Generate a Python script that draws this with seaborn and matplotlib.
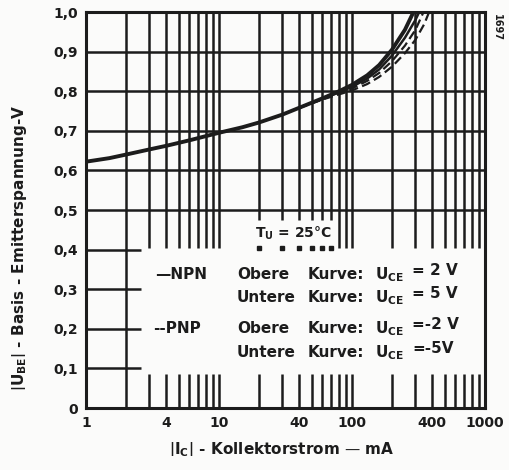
import numpy as np
import pandas as pd
import matplotlib
matplotlib.use("Agg")
import matplotlib.pyplot as plt
import seaborn as sns

# Curve data (I_C in mA, U_BE in V)
npn_2v_i = [1, 1.5, 2, 3, 4, 6, 10, 15, 20, 30, 40, 60, 80, 100, 130, 160, 200, 250, 290]
npn_2v_u = [0.622, 0.631, 0.640, 0.653, 0.662, 0.676, 0.695, 0.709, 0.721, 0.741, 0.758,
            0.782, 0.800, 0.816, 0.840, 0.866, 0.905, 0.955, 1.0]

npn_5v_i = [40, 60, 80, 100, 130, 160, 200, 250, 300, 320]
npn_5v_u = [0.758, 0.781, 0.797, 0.811, 0.832, 0.855, 0.890, 0.935, 0.980, 1.0]

pnp_2v_i = [40, 60, 80, 100, 130, 160, 200, 250, 300, 345]
pnp_2v_u = [0.758, 0.780, 0.795, 0.807, 0.826, 0.846, 0.876, 0.915, 0.955, 1.0]

pnp_5v_i = [40, 60, 80, 100, 130, 160, 200, 250, 300, 350, 380]
pnp_5v_u = [0.758, 0.779, 0.792, 0.802, 0.818, 0.836, 0.862, 0.896, 0.930, 0.970, 1.0]

x_ticks = [1, 4, 10, 40, 100, 400, 1000]
x_tick_labels = ["1", "4", "10", "40", "100", "400", "1000"]
y_ticks = [0, 0.1, 0.2, 0.3, 0.4, 0.5, 0.6, 0.7, 0.8, 0.9, 1.0]
y_tick_labels = ["0", "0,1", "0,2", "0,3", "0,4", "0,5", "0,6", "0,7", "0,8", "0,9", "1,0"]

# grid positions of the log paper
decades = [1, 10, 100]
steps = [2, 3, 4, 5, 6, 7, 8, 9, 10]
grid_x = [d * s for d in decades for s in steps][:-1]
grid_y_full = [0.5, 0.6, 0.7, 0.8, 0.9]
grid_y_short = [0.1, 0.2, 0.3, 0.4]

sns.set_style("white")
plt.rcParams["font.family"] = ["DejaVu Sans"]
plt.rcParams["font.weight"] = "bold"

fig = plt.figure(figsize=(5.1, 4.7), dpi=100)
fig.patch.set_facecolor("#fbfbfa")
ax = fig.add_axes([86 / 510, 1 - 408 / 470, 399 / 510, 396 / 470])
ax.set_facecolor("#fbfbfa")
ax.set_xscale("log")
ax.set_xlim(1, 1000)
ax.set_ylim(0, 1.0)

ink = "#1c1c1c"
lw_grid = 1.8

# grid: full lines in the upper part, broken for the legend box below
label_gap = [gx for gx in grid_x if 18 <= gx <= 75]
for gx in grid_x:
    if gx == 2:
        ax.vlines(gx, 0, 1, color=ink, lw=lw_grid)
        continue
    top_end = 0.475 if gx in label_gap else 0.405
    ax.vlines(gx, top_end, 1, color=ink, lw=lw_grid)
    ax.vlines(gx, 0, 0.085, color=ink, lw=lw_grid)
ax.hlines(grid_y_full, 1, 1000, color=ink, lw=lw_grid)
ax.hlines(grid_y_short, 1, 2.6, color=ink, lw=lw_grid)
# leftover dots of the cut grid lines under the temperature label
ax.plot(label_gap, [0.405] * len(label_gap), ls="none", marker="s", ms=2.2, color=ink)

# curves
sns.lineplot(x=npn_2v_i, y=npn_2v_u, ax=ax, color=ink, lw=2.8)
sns.lineplot(x=npn_5v_i, y=npn_5v_u, ax=ax, color=ink, lw=1.8)
sns.lineplot(x=pnp_2v_i, y=pnp_2v_u, ax=ax, color=ink, lw=1.6, linestyle=(0, (4, 2)))
sns.lineplot(x=pnp_5v_i, y=pnp_5v_u, ax=ax, color=ink, lw=1.6, linestyle=(0, (4, 2)))

for side in ["left", "right", "top", "bottom"]:
    ax.spines[side].set_color(ink)
    ax.spines[side].set_linewidth(2.2)

ax.set_xticks(x_ticks)
ax.set_xticklabels(x_tick_labels)
ax.xaxis.set_minor_locator(matplotlib.ticker.NullLocator())
ax.set_yticks(y_ticks)
ax.set_yticklabels(y_tick_labels)
ax.tick_params(axis="both", length=0, labelsize=10, colors=ink, pad=6)
for lab in ax.get_xticklabels() + ax.get_yticklabels():
    lab.set_fontweight("bold")

# labels
fig.text(20 / 510, 1 - 248 / 470,
         r"$\left|\mathbf{U_{BE}}\right|$" + " - Basis - Emitterspannung-V",
         rotation=90, ha="center", va="center", fontsize=11, color=ink, fontweight="bold")
fig.text(282 / 510, 1 - 450 / 470,
         r"$\left|\mathbf{I_{C}}\right|$" + " - Kollektorstrom — mA",
         ha="center", va="center", fontsize=11, color=ink, fontweight="bold")
fig.text(497 / 510, 1 - 28 / 470, "1697", rotation=270, ha="center", va="center",
         fontsize=7, color=ink, fontweight="bold")

# annotations inside the box
ax.text(36, 0.44, r"T$_\mathbf{U}$ = 25°C", ha="center", va="center", fontsize=10, color=ink)

rows_y = [0.338, 0.278, 0.200, 0.141]
ax.text(3.3, rows_y[0], "—NPN", ha="left", va="center", fontsize=11, color=ink)
ax.text(3.2, rows_y[2], "--PNP", ha="left", va="center", fontsize=11, color=ink)
row_first = ["Obere", "Untere", "Obere", "Untere"]
row_value = ["= 2 V", "= 5 V", "=-2 V", "=-5V"]
for yy, w, val in zip(rows_y, row_first, row_value):
    ax.text(13.6, yy, w, ha="left", va="center", fontsize=11, color=ink)
    ax.text(46, yy, "Kurve:", ha="left", va="center", fontsize=11, color=ink)
    ax.text(150, yy, r"U$_\mathbf{CE}$", ha="left", va="center", fontsize=11, color=ink)
    ax.text(285, yy + 0.01, val, ha="left", va="center", fontsize=11, color=ink)

fig.savefig("out.png", dpi=100, facecolor=fig.get_facecolor())
